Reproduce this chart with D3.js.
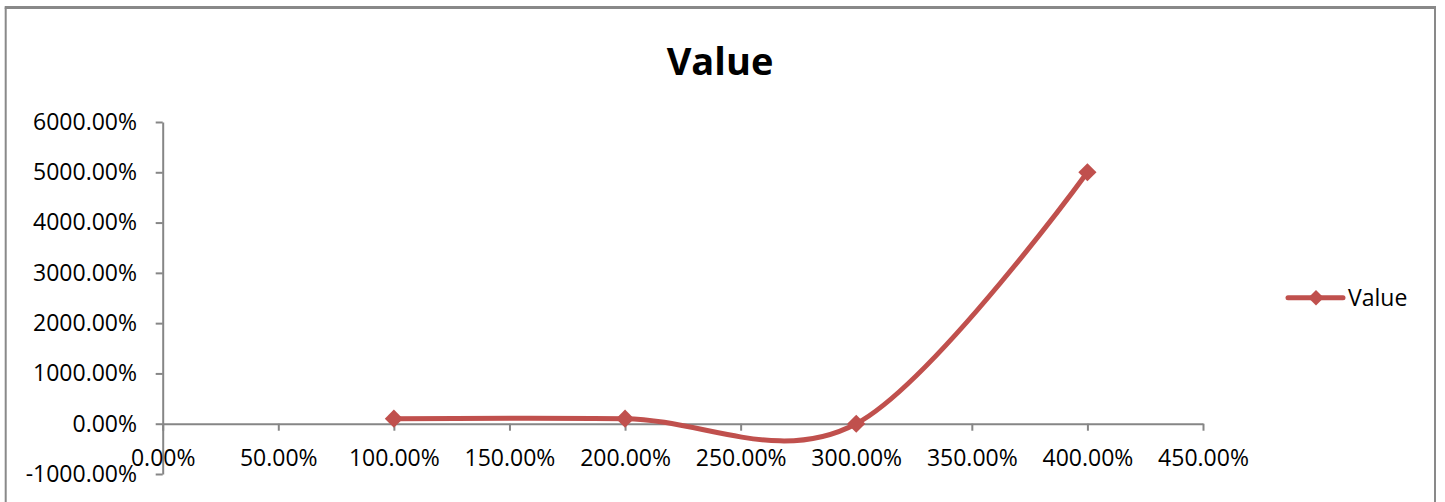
<!DOCTYPE html>
<html>
<head>
<meta charset="utf-8">
<script src="https://cdn.jsdelivr.net/npm/d3@7"></script>
<style>
  html, body { margin: 0; padding: 0; background: #fff; }
  svg { display: block; }
  text { font-family: "Open Sans", "Noto Sans", sans-serif; fill: #000; }
</style>
</head>
<body>
<svg id="chart" width="1445" height="502"></svg>
<script>
// ---- data ----
const seriesName = "Value";
const xValues = [1, 2, 3, 4];          // 100%, 200%, 300%, 400%
const yValues = [1, 1, 0, 50];         // 100%, 100%, 0%, 5000%
const xTicks = [0, 0.5, 1, 1.5, 2, 2.5, 3, 3.5, 4, 4.5];
const yTicks = [-10, 0, 10, 20, 30, 40, 50, 60];
const chartTitle = "Value";

// ---- layout ----
const color = "#C0504D";
const axisColor = "#868686";
const svg = d3.select("#chart");

// outer chart border
svg.append("line").attr("x1", 4.7).attr("x2", 1436).attr("y1", 7.5).attr("y2", 7.5)
  .attr("stroke", "#898989").attr("stroke-width", 3);
svg.append("line").attr("x1", 5.7).attr("x2", 5.7).attr("y1", 7.5).attr("y2", 510)
  .attr("stroke", "#898989").attr("stroke-width", 2);
svg.append("line").attr("x1", 1435).attr("x2", 1435).attr("y1", 7.5).attr("y2", 510)
  .attr("stroke", "#898989").attr("stroke-width", 2);

const x = d3.scaleLinear().domain([0, 4.5]).range([162.7, 1203]);
const y = d3.scaleLinear().domain([-10, 60]).range([474, 122]);
const fmt = d => (d * 100).toFixed(2) + "%";

// title
svg.append("text").attr("x", 720).attr("y", 75).attr("text-anchor", "middle")
  .style("font-size", "38px").style("font-weight", "bold").text(chartTitle);

// y axis
const yAxis = svg.append("g").attr("transform", `translate(${x(0)},0)`)
  .call(d3.axisLeft(y).tickValues(yTicks).tickFormat(fmt).tickSize(7).tickSizeOuter(0).tickPadding(18.7));
// x axis
const xAxis = svg.append("g").attr("transform", `translate(0,${y(0)})`)
  .call(d3.axisBottom(x).tickValues(xTicks).tickFormat(fmt).tickSize(7).tickSizeOuter(0).tickPadding(19));

[xAxis, yAxis].forEach(g => {
  g.select(".domain").attr("stroke", axisColor).attr("stroke-width", 2);
  g.selectAll(".tick line").attr("stroke", axisColor).attr("stroke-width", 2);
  g.selectAll(".tick text").style("font-size", "23px").attr("fill", "#000")
    .style("font-family", "'Open Sans', 'Noto Sans', sans-serif");
  g.attr("font-family", null).attr("font-size", null);
});

// series line
const pts = xValues.map((v, i) => [v, yValues[i]]);
const line = d3.line().x(d => x(d[0])).y(d => y(d[1])).curve(d3.curveCardinal.tension(0));
svg.append("path").datum(pts).attr("d", line).attr("fill", "none")
  .attr("stroke", color).attr("stroke-width", 5).attr("stroke-linejoin", "round").attr("stroke-linecap", "round");

// markers
const diamond = d3.symbol().type(d3.symbolSquare).size(165);
svg.selectAll("path.mk").data(pts).join("path").attr("class", "mk")
  .attr("d", diamond())
  .attr("transform", d => `translate(${x(d[0])},${y(d[1])}) rotate(45)`)
  .attr("fill", color);

// legend
const lg = svg.append("g");
lg.append("line").attr("x1", 1288).attr("x2", 1343).attr("y1", 297.7).attr("y2", 297.7)
  .attr("stroke", color).attr("stroke-width", 5).attr("stroke-linecap", "round");
lg.append("path").attr("d", d3.symbol().type(d3.symbolSquare).size(120)())
  .attr("transform", "translate(1316,297.7) rotate(45)").attr("fill", color);
lg.append("text").attr("x", 1348).attr("y", 297.7).attr("dy", "0.35em")
  .style("font-size", "23px").text(seriesName);
</script>
</body>
</html>
